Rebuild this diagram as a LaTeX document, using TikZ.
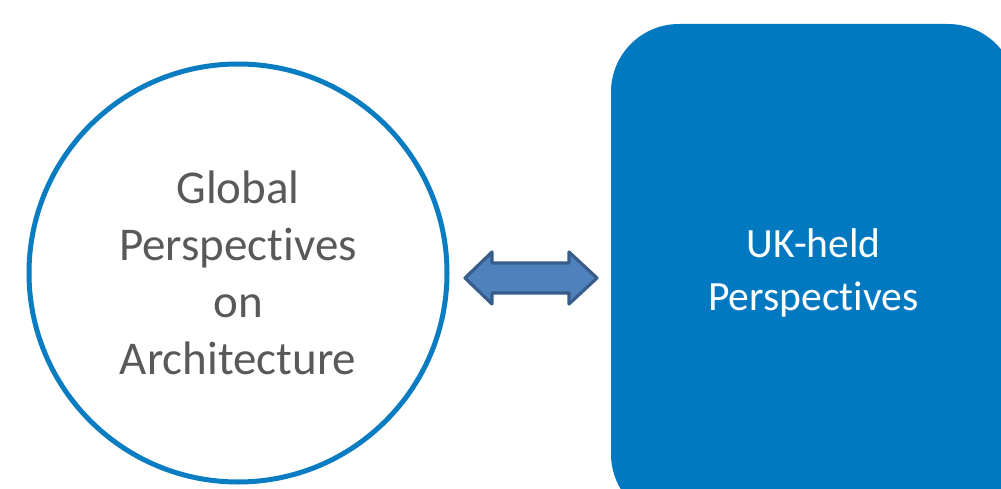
\documentclass[tikz,border=0pt]{standalone}
\usepackage{fontspec}
\setmainfont{Carlito}[Ligatures=NoCommon]
\definecolor{ringblue}{HTML}{0A7CC2}
\definecolor{boxblue}{HTML}{0079C1}
\definecolor{arrfill}{HTML}{4F81BD}
\definecolor{arrline}{HTML}{385D8A}
\definecolor{txtgray}{HTML}{595959}
\tikzset{
  ring/.style={circle, draw=ringblue, line width=5pt, fill=white, minimum size=418pt, inner sep=0pt, align=center, text=txtgray, font=\fontsize{47}{57}\selectfont},
  ukbox/.style={rectangle, rounded corners=68pt, fill=boxblue, minimum width=405pt, minimum height=498pt, align=center, text=white, font=\fontsize{41.6}{53}\selectfont},
  dblarrow/.style={fill=arrfill, draw=arrline, line width=3.2pt, line join=round}
}
\begin{document}
\begin{tikzpicture}[x=1pt,y=1pt]
\useasboundingbox (0,0) rectangle (1001,488);
\clip (0,0) rectangle (1001,488);
\fill[white] (0,0) rectangle (1001,488);
\node[ring] (global) at (238,215) {Global\\Perspectives\\on\\Architecture};
\node[ukbox] (uk) at (813.5,215) {UK-held\\Perspectives};
\coordinate (tipL) at (465,210);
\coordinate (tipR) at (597,210);
\draw[dblarrow] (tipL) -- ++(27,26) -- ++(0,-11) -- ++(77,0) -- ++(0,11) -- (tipR) -- ++(-28,-26) -- ++(0,11) -- ++(-77,0) -- ++(0,-11) -- cycle;
\end{tikzpicture}
\end{document}
